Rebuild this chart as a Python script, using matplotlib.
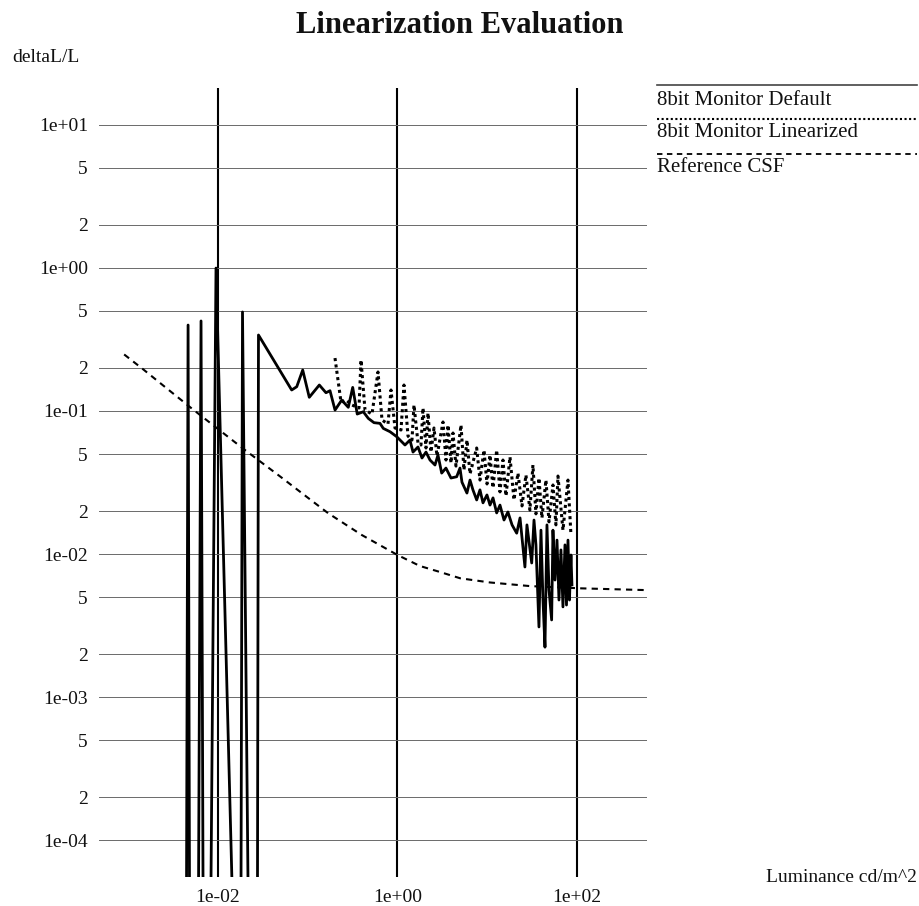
import matplotlib
matplotlib.use("Agg")
import matplotlib.pyplot as plt
from matplotlib.lines import Line2D
from matplotlib.ticker import FixedLocator, FuncFormatter, NullLocator

plt.rcParams["font.family"] = ["Liberation Serif", "DejaVu Serif"]

# 8bit Monitor Default (solid)
default_lum = [4.46e-3, 4.64e-3, 4.81e-3, 6.07e-3, 6.47e-3, 6.81e-3, 8.35e-3, 9.50e-3,
               0.01433, 0.01805, 0.01875, 0.0216, 0.02754, 0.02825,
               0.0662, 0.0754, 0.0879, 0.104, 0.1346, 0.1596, 0.177, 0.2014, 0.2388,
               0.283, 0.317, 0.356, 0.416, 0.473, 0.547, 0.638, 0.695, 0.825, 0.980,
               1.212, 1.377, 1.489, 1.692, 1.875, 2.078, 2.303, 2.618, 2.826, 3.108,
               3.467, 3.945, 4.566, 4.97, 5.23, 5.94, 6.43, 6.93, 7.63, 8.30,
               8.97, 9.93, 10.74, 11.6, 12.74, 13.87, 15.38, 17.0, 18.9, 21.3,
               23.2, 26.3, 27.7, 31.3, 33.2, 34.9, 37.7, 39.7, 41.8, 44.0,
               46.3, 48.8, 52.2, 54.0, 56.9, 59.9, 63.0, 66.3, 69.8, 73.5,
               76.4, 79.4, 82.5, 85.7, 87.9]
default_dl = [5e-5, 0.398, 5e-5, 5e-5, 0.425, 5e-5, 5e-5, 0.995,
              5e-5, 5e-5, 0.491, 5e-5, 5e-5, 0.339,
              0.140, 0.1476, 0.193, 0.1245, 0.1517, 0.1340, 0.1384, 0.1014, 0.119,
              0.106, 0.146, 0.0951, 0.0987, 0.0887, 0.0828, 0.0819, 0.0755, 0.0716, 0.0661,
              0.0578, 0.0626, 0.0516, 0.056, 0.0469, 0.0516, 0.0454, 0.0419, 0.0492, 0.0368,
              0.0399, 0.0340, 0.0347, 0.0399, 0.0318, 0.0267, 0.0329, 0.0281, 0.0239, 0.0281,
              0.0228, 0.0259, 0.0220, 0.0247, 0.0194, 0.0220, 0.0173, 0.0197, 0.0160, 0.0140,
              0.0179, 0.00813, 0.0160, 0.00867, 0.0173, 0.0116, 0.0031, 0.0147, 0.00478, 0.00224,
              0.0160, 0.00561, 0.00347, 0.0147, 0.00659, 0.01253, 0.00478, 0.0107, 0.00428, 0.0116,
              0.00441, 0.01253, 0.00478, 0.00986, 0.0061]

# 8bit Monitor Linearized (dotted)
lin_lum = [0.2012, 0.2347, 0.2668, 0.3112, 0.3724, 0.392, 0.4345, 0.5198, 0.6065, 0.6722,
           0.7837, 0.8464, 0.938, 1.094, 1.181, 1.309, 1.450, 1.527, 1.692, 1.827,
           1.924, 2.077, 2.187, 2.362, 2.551, 2.755, 3.214, 3.471, 3.653, 3.946,
           4.154, 4.485, 5.099, 5.506, 5.947, 6.424, 7.626, 8.30, 9.20, 9.94,
           10.73, 11.59, 12.74, 13.87, 14.98, 16.18, 17.93, 19.86, 22.0, 24.4,
           27.0, 29.9, 32.3, 34.9, 37.7, 40.7, 45.1, 48.8, 54.0, 58.3,
           61.4, 69.8, 79.4, 85.7]
lin_dl = [0.234, 0.1154, 0.1192, 0.11, 0.1048, 0.2267, 0.1015, 0.0951, 0.187, 0.0864,
          0.0810, 0.140, 0.076, 0.0736, 0.1517, 0.0668, 0.0626, 0.11, 0.0597, 0.0578,
          0.1048, 0.0551, 0.0967, 0.0516, 0.076, 0.0484, 0.0837, 0.0454, 0.0797, 0.0433,
          0.0701, 0.0412, 0.0797, 0.0387, 0.0626, 0.0363, 0.0551, 0.0329, 0.0533, 0.0309,
          0.0492, 0.0290, 0.0533, 0.0272, 0.0454, 0.0255, 0.0477, 0.0239, 0.0368, 0.0217,
          0.0357, 0.0203, 0.0419, 0.0191, 0.0340, 0.0179, 0.0329, 0.0168, 0.0304, 0.0160,
          0.0351, 0.0147, 0.0329, 0.0136]

# Reference CSF (dashed)
csf_lum = [9e-4, 1.47e-3, 2.5e-3, 5.1e-3, 0.01, 0.02, 0.05, 0.1, 0.169, 0.4, 1.0,
           1.78, 2.98, 5.0, 10.7, 30, 108, 570]
csf_dl = [0.248, 0.195, 0.149, 0.104, 0.0748, 0.0533, 0.0346, 0.0248, 0.0193, 0.0136, 0.00986,
          0.00826, 0.0075, 0.00678, 0.00634, 0.00598, 0.00577, 0.00561]

x_ticks = [1e-2, 1e0, 1e2]
x_labels = ["1e-02", "1e+00", "1e+02"]
y_major = [1e-4, 1e-3, 1e-2, 1e-1, 1e0, 1e1]
y_minor = [2e-4, 5e-4, 2e-3, 5e-3, 2e-2, 5e-2, 2e-1, 5e-1, 2e0, 5e0]

series_names = ["8bit Monitor Default", "8bit Monitor Linearized", "Reference CSF"]

ink = "#111111"
W, H = 920, 906
fig = plt.figure(figsize=(W / 100, H / 100), dpi=100)
ax = fig.add_axes([99 / W, 1 - 877 / H, 548 / W, 789 / H])
ax.set_xscale("log")
ax.set_yscale("log")
ax.set_xlim(4.72e-4, 603)
ax.set_ylim(5.56e-5, 18)

for s in ax.spines.values():
    s.set_visible(False)

ax.xaxis.set_major_locator(FixedLocator(x_ticks))
ax.xaxis.set_major_formatter(FuncFormatter(lambda v, p: x_labels[p] if p is not None and p < len(x_labels) else ""))
ax.xaxis.set_minor_locator(NullLocator())
ax.yaxis.set_major_locator(FixedLocator(y_major))
ax.yaxis.set_minor_locator(FixedLocator(y_minor))
ax.yaxis.set_major_formatter(FuncFormatter(lambda v, p: f"{v:.0e}"))
ax.yaxis.set_minor_formatter(FuncFormatter(lambda v, p: f"{v:.0e}"[0]))
ax.tick_params(axis="both", which="both", length=0, labelsize=14, colors=ink)
ax.tick_params(axis="x", pad=9)
ax.tick_params(axis="y", which="both", pad=8)

ax.grid(axis="x", which="major", color="black", lw=1.5)
ax.grid(axis="y", which="both", color="#6a6a6a", lw=0.7)

ax.plot(default_lum, default_dl, color="black", lw=2.0, ls="-")
ax.plot(lin_lum, lin_dl, color="black", lw=2.2, ls=(0, (1, 1.1)))
ax.plot(csf_lum, csf_dl, color="black", lw=1.5, ls=(0, (3, 2.5)))

fig.text(0.5, 1 - 33 / H, "Linearization Evaluation", ha="center", va="baseline",
         fontsize=22, fontweight="bold", color=ink)
fig.text(12 / W, 1 - 58 / H, "deltaL/L", ha="left", va="center", fontsize=14, color=ink)
fig.text(917 / W, 1 - 878 / H, "Luminance cd/m^2", ha="right", va="center", fontsize=14, color=ink)

# legend at the upper right: sample line above each label
styles = [dict(ls="-", lw=1.2, color="#444444"),
          dict(ls=(0, (1, 1.2)), lw=1.5, color="black"),
          dict(ls=(0, (3, 2.5)), lw=1.3, color="black")]
line_y = [85, 119, 154]
base_y = [105, 137, 172]
for name, st, ly, by in zip(series_names, styles, line_y, base_y):
    fig.add_artist(Line2D([657 / W, 917 / W], [1 - ly / H, 1 - ly / H], transform=fig.transFigure, **st))
    fig.text(657 / W, 1 - by / H, name, ha="left", va="baseline", fontsize=15, color=ink)

fig.savefig("out.png", dpi=100, facecolor="white")
